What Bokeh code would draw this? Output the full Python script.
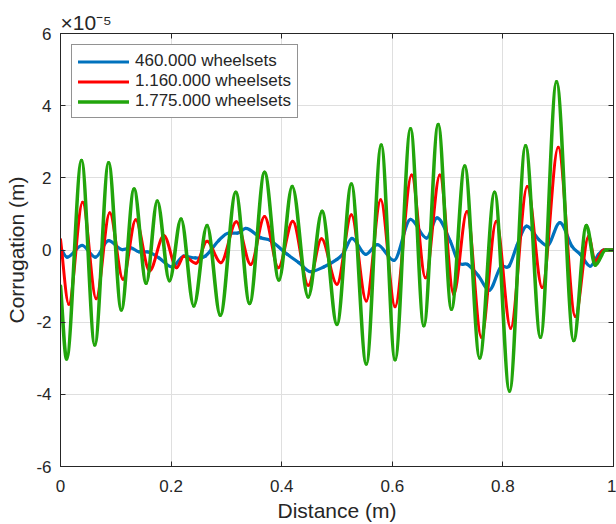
from bokeh.plotting import figure
from bokeh.models import (Range1d, LinearAxis, FixedTicker, Legend, LegendItem,
                          ColumnDataSource, Title)
from bokeh.embed import file_html
from bokeh.resources import INLINE

# Corrugation profiles (units of 1e-5 m) sampled at peaks, troughs and shoulders
x_460 = [0.000, 0.012, 0.039, 0.063, 0.087, 0.112, 0.127, 0.142, 0.157, 0.178,
         0.202, 0.223, 0.244, 0.262, 0.286, 0.304, 0.320, 0.335, 0.362, 0.380,
         0.410, 0.431, 0.452, 0.476, 0.500, 0.512, 0.527, 0.552, 0.573, 0.603,
         0.633, 0.662, 0.681, 0.705, 0.720, 0.736, 0.756, 0.775, 0.796, 0.811,
         0.826, 0.843, 0.865, 0.880, 0.903, 0.925, 0.940, 0.958, 0.973, 0.982,
         1.000]
y_460 = [0.06, -0.20, 0.13, -0.20, 0.26, 0.01, 0.06, -0.05, -0.05, -0.22,
         -0.47, -0.17, -0.22, -0.17, 0.26, 0.47, 0.47, 0.60, 0.34, 0.26,
         -0.12, -0.35, -0.60, -0.47, -0.26, -0.08, 0.32, -0.12, 0.15, -0.29,
         0.85, 0.33, 0.89, 0.24, -0.35, -0.40, -0.72, -1.12, -0.47, -0.45,
         0.15, 0.66, 0.29, 0.12, 0.76, 0.10, -0.12, -0.45, -0.12, 0.00,
         0.00]

x_1160 = [0.000, 0.015, 0.040, 0.0645, 0.089, 0.113, 0.136, 0.161, 0.187, 0.210,
          0.223, 0.245, 0.265, 0.290, 0.318, 0.344, 0.369, 0.394, 0.420, 0.448,
          0.472, 0.500, 0.526, 0.553, 0.579, 0.605, 0.635, 0.660, 0.686, 0.711,
          0.735, 0.761, 0.788, 0.814, 0.844, 0.871, 0.900, 0.931, 0.955, 0.967,
          0.982, 1.000]
y_1160 = [0.29, -1.50, 1.32, -1.35, 1.03, -0.81, 0.84, -0.58, 0.40, -0.49,
          -0.17, -0.37, 0.24, -0.35, 0.78, -0.40, 0.93, -0.49, 0.80, -0.98,
          0.31, -0.95, 0.98, -1.41, 1.39, -1.57, 2.08, -0.77, 2.08, -1.23,
          1.07, -2.42, 0.80, -2.17, 1.76, -1.04, 2.85, -1.84, 0.38, -0.31,
          0.00, 0.00]

x_1775 = [0.000, 0.011, 0.038, 0.062, 0.087, 0.110, 0.133, 0.155, 0.175, 0.197,
          0.218, 0.241, 0.265, 0.289, 0.317, 0.342, 0.369, 0.395, 0.419, 0.448,
          0.473, 0.500, 0.526, 0.553, 0.580, 0.605, 0.633, 0.657, 0.683, 0.707,
          0.731, 0.758, 0.785, 0.812, 0.841, 0.868, 0.897, 0.928, 0.951, 0.967,
          0.986, 1.000]
y_1775 = [-1.00, -3.02, 2.48, -2.63, 2.42, -1.66, 1.69, -0.92, 1.36, -0.85,
          0.86, -1.55, 0.68, -1.81, 1.60, -1.48, 2.15, -0.83, 1.76, -1.30,
          1.07, -2.06, 1.83, -3.16, 2.91, -3.04, 3.36, -2.10, 3.48, -1.64,
          2.33, -2.99, 1.60, -3.91, 2.89, -2.42, 4.66, -2.51, 0.68, -0.42,
          0.00, 0.00]

series_labels = ["460.000 wheelsets", "1.160.000 wheelsets", "1.775.000 wheelsets"]
series_colors = ["#0072bd", "#ff0000", "#22a50c"]
series_widths = [3.2, 3.0, 3.6]

x_ticks = [0, 0.2, 0.4, 0.6, 0.8, 1]
x_tick_labels = ["0", "0.2", "0.4", "0.6", "0.8", "1"]
y_ticks = [-6, -4, -2, 0, 2, 4, 6]
y_tick_labels = ["-6", "-4", "-2", "0", "2", "4", "6"]
y_multiplier = "\u00d710\u207b\u2075"

FONT = "Liberation Sans"
INK = "#262626"


def smooth_segments(xs, ys):
    """Cubic Bezier pieces through the samples: flat tangents at extrema,
    Catmull-Rom tangents elsewhere."""
    n = len(xs)
    slopes = []
    for i in range(n):
        if i == 0:
            s = (ys[1] - ys[0]) / (xs[1] - xs[0])
        elif i == n - 1:
            s = (ys[-1] - ys[-2]) / (xs[-1] - xs[-2])
        else:
            a = ys[i] - ys[i - 1]
            b = ys[i + 1] - ys[i]
            s = 0.0 if a * b <= 0 else (ys[i + 1] - ys[i - 1]) / (xs[i + 1] - xs[i - 1])
        slopes.append(s)
    d = dict(x0=[], y0=[], x1=[], y1=[], cx0=[], cy0=[], cx1=[], cy1=[])
    for i in range(n - 1):
        h = (xs[i + 1] - xs[i]) / 3.0
        d["x0"].append(xs[i]); d["y0"].append(ys[i])
        d["x1"].append(xs[i + 1]); d["y1"].append(ys[i + 1])
        d["cx0"].append(xs[i] + h); d["cy0"].append(ys[i] + h * slopes[i])
        d["cx1"].append(xs[i + 1] - h); d["cy1"].append(ys[i + 1] - h * slopes[i + 1])
    return ColumnDataSource(d)


# multiplier for the y values, shown above the axis
head = Title(text=y_multiplier, align="left", offset=0, standoff=0,
             text_font=FONT, text_font_size="21px", text_font_style="normal",
             text_color=INK)

p = figure(width=616, height=524, output_backend="svg", toolbar_location=None,
           x_range=Range1d(0, 1), y_range=Range1d(-6, 6), title=head,
           min_border_left=60, min_border_right=3, min_border_top=33,
           min_border_bottom=56)
p.background_fill_color = "white"
p.border_fill_color = "white"
p.outline_line_color = INK
p.outline_line_width = 1

# grid
for g, t in ((p.xgrid[0], x_ticks), (p.ygrid[0], y_ticks)):
    g.ticker = FixedTicker(ticks=t)
    g.grid_line_color = "#dfdfdf"
    g.grid_line_width = 1


def style_axis(ax, ticks, labels, show_labels=True):
    ax.ticker = FixedTicker(ticks=ticks)
    ax.major_label_overrides = {t: l for t, l in zip(ticks, labels)}
    ax.axis_line_color = INK
    ax.major_tick_line_color = INK
    ax.major_tick_in = 5
    ax.major_tick_out = 0
    ax.minor_tick_line_color = None
    ax.major_label_text_font = FONT
    ax.major_label_text_color = INK
    ax.major_label_text_font_size = "17px" if show_labels else "0px"
    ax.axis_label_text_font = FONT
    ax.axis_label_text_font_style = "normal"
    ax.axis_label_text_color = INK
    ax.axis_label_text_font_size = "21px"


style_axis(p.xaxis[0], x_ticks, x_tick_labels)
style_axis(p.yaxis[0], y_ticks, y_tick_labels)
p.xaxis[0].axis_label = "Distance (m)"
p.yaxis[0].axis_label = "Corrugation (m)"
p.xaxis[0].major_label_standoff = 13
p.yaxis[0].major_label_standoff = 9
p.xaxis[0].axis_label_standoff = 4
p.yaxis[0].axis_label_standoff = 5

top_ax = LinearAxis()
style_axis(top_ax, x_ticks, [""] * len(x_ticks), show_labels=False)
top_ax.major_label_standoff = 0
p.add_layout(top_ax, "above")
right_ax = LinearAxis()
style_axis(right_ax, y_ticks, [""] * len(y_ticks), show_labels=False)
right_ax.major_label_standoff = 0
p.add_layout(right_ax, "right")

# curves
items = []
for xs, ys, lab, col, lw in zip((x_460, x_1160, x_1775), (y_460, y_1160, y_1775),
                                series_labels, series_colors, series_widths):
    src = smooth_segments(xs, ys)
    r = p.bezier(x0="x0", y0="y0", x1="x1", y1="y1", cx0="cx0", cy0="cy0",
                 cx1="cx1", cy1="cy1", source=src, line_color=col,
                 line_width=lw, line_cap="round")
    items.append(LegendItem(label=lab, renderers=[r]))

legend = Legend(items=items, location="top_left")
legend.margin = 11
legend.padding = 6
legend.spacing = 0
legend.glyph_width = 51
legend.glyph_height = 19
legend.label_height = 19
legend.label_standoff = 6
legend.label_text_font = FONT
legend.label_text_font_size = "17px"
legend.label_text_color = INK
legend.border_line_color = INK
legend.border_line_width = 1
legend.background_fill_color = "white"
legend.background_fill_alpha = 1
p.add_layout(legend)

open("out.html", "w").write(file_html(p, INLINE))
